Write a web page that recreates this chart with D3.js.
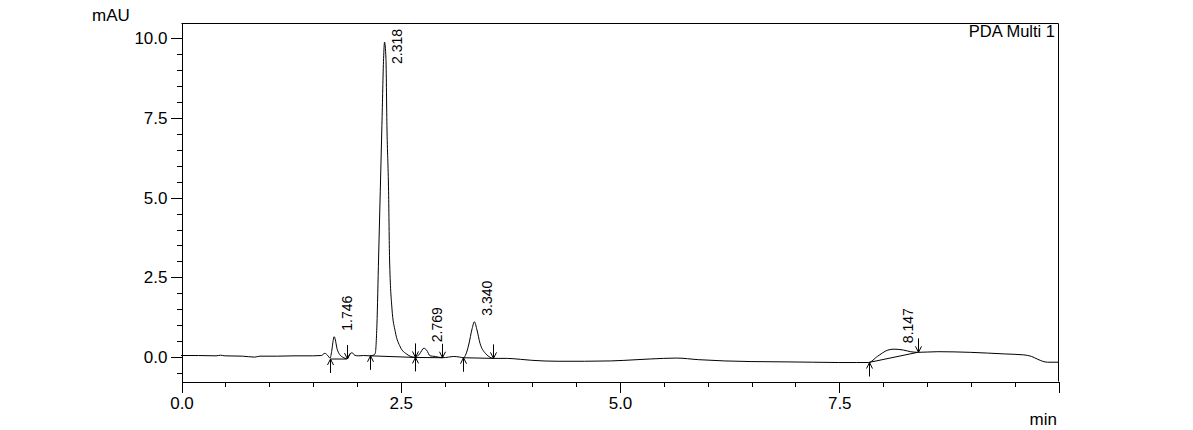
<!DOCTYPE html>
<html>
<head>
<meta charset="utf-8">
<script src="https://cdn.jsdelivr.net/npm/d3@7"></script>
<style>
body { margin: 0; background: #fff; }
svg text { font-family: "Liberation Sans", Arial, sans-serif; fill: #000; }
</style>
</head>
<body>
<svg></svg>
<script>
// chromatogram trace (min, mAU)
var times  = [0.00, 0.20, 0.40, 0.45, 0.50, 0.70, 0.84, 0.90, 1.10, 1.30, 1.50, 1.60, 1.64, 1.67, 1.70,
              1.72, 1.735, 1.747, 1.76, 1.777, 1.80, 1.815, 1.85, 1.89, 1.92, 1.95, 1.98, 2.02, 2.08, 2.16,
              2.20, 2.215, 2.234, 2.253, 2.272, 2.291, 2.310, 2.321, 2.337, 2.348, 2.367, 2.378, 2.405, 2.443, 2.50,
              2.576, 2.62, 2.67, 2.72, 2.77, 2.80, 2.84, 2.90, 2.98, 3.05, 3.11, 3.18, 3.22, 3.25, 3.28,
              3.32, 3.345, 3.375, 3.41, 3.47, 3.51, 3.56, 3.72, 3.87, 4.00, 4.30, 4.60, 4.90, 5.20, 5.50,
              5.65, 5.90, 6.20, 6.50, 6.90, 7.20, 7.50, 7.70, 7.84, 7.94, 8.06, 8.13, 8.24, 8.32, 8.40,
              8.63, 9.00, 9.39, 9.61, 9.70, 9.77, 9.88, 10.0];
var signal = [0.03, 0.03, 0.02, 0.04, 0.02, 0.01, -0.02, 0.01, 0.01, 0.02, 0.02, 0.03, 0.10, 0.04, -0.05,
              0.20, 0.50, 0.62, 0.52, 0.27, 0.10, 0.04, -0.03, -0.07, 0.05, 0.12, 0.04, 0.02, 0.03, 0.02,
              0.05, 0.10, 0.99, 3.09, 5.17, 7.26, 9.35, 9.87, 9.35, 7.26, 5.17, 3.09, 1.52, 0.78, 0.30,
              0.07, 0.00, -0.03, 0.08, 0.26, 0.20, 0.02, 0.00, -0.04, -0.02, 0.00, -0.02, -0.04, 0.08, 0.36,
              0.88, 1.09, 0.83, 0.41, 0.10, 0.00, -0.06, -0.06, -0.09, -0.12, -0.15, -0.15, -0.14, -0.10, -0.06,
              -0.05, -0.10, -0.14, -0.16, -0.17, -0.18, -0.19, -0.19, -0.19, 0.00, 0.20, 0.23, 0.20, 0.15, 0.13,
              0.15, 0.13, 0.08, 0.05, 0.00, -0.09, -0.18, -0.18];

// detected peaks
var peak_labels      = ["1.746", "2.318", "2.769", "3.340", "8.147"];
var peak_rt          = [1.746, 2.318, 2.769, 3.340, 8.147];
var peak_height      = [0.62, 9.87, 0.26, 1.09, 0.23];
var peak_start       = [1.70, 2.16, 2.67, 3.22, 7.84];
var peak_start_level = [-0.08, 0.02, -0.03, -0.04, -0.19];
var peak_end         = [1.89, 2.67, 2.98, 3.56, 8.40];
var peak_end_level   = [-0.08, -0.03, -0.04, -0.06, 0.13];

var x_ticks = [0, 2.5, 5, 7.5];
var y_ticks = [0, 2.5, 5, 7.5, 10];

var width = 1193, height = 430;
var p_left = 181, p_right = 1058, p_top = 23, p_bottom = 381;

var svg = d3.select("svg");
svg.attr("width", width).attr("height", height);

var xScale = d3.scaleLinear().domain([0, 10]).range([p_left, p_right]);
var yScale = d3.scaleLinear().domain([-0.77, 10.47]).range([p_bottom, p_top]);

// 枠 (上と右)
svg.append("path")
    .attr("d", "M" + (p_left + 0.5) + "," + (p_top + 0.5) + "H" + (p_right + 0.5) + "V" + (p_bottom + 0.5))
    .attr("fill", "none")
    .attr("stroke", "#000")
    .attr("stroke-width", 1);

// 軸
var gx = svg.append("g").attr("transform", "translate(0.5," + (p_bottom + 0.5) + ")");
gx.call(d3.axisBottom(xScale).tickValues(d3.range(0, 10.01, 0.5)).tickFormat("").tickSize(5).tickSizeOuter(0));
gx.append("g").call(d3.axisBottom(xScale).tickValues(x_ticks.concat([10])).tickSize(11).tickPadding(4)
    .tickFormat(function(d) { return d == 10 ? "" : d3.format(".1f")(d); }))
    .select(".domain").remove();

var gy = svg.append("g").attr("transform", "translate(" + (p_left + 0.5) + ",0.5)");
gy.call(d3.axisLeft(yScale).tickValues(d3.range(-0.5, 10.01, 0.5)).tickFormat("").tickSize(5).tickSizeOuter(0));
gy.append("g").call(d3.axisLeft(yScale).tickValues(y_ticks).tickSize(11).tickPadding(3)
    .tickFormat(d3.format(".1f")))
    .select(".domain").remove();

svg.selectAll(".tick text")
    .attr("font-size", 17)
    .attr("font-family", "Liberation Sans, Arial, sans-serif");
svg.selectAll(".domain, .tick line").attr("stroke", "#000").attr("shape-rendering", "crispEdges");

svg.append("text").attr("x", 92).attr("y", 21).attr("font-size", 17).text("mAU");
svg.append("text").attr("x", 1057).attr("y", 425).attr("font-size", 17)
    .attr("text-anchor", "end").text("min");
svg.append("text").attr("x", 1055).attr("y", 37).attr("font-size", 16.5)
    .attr("text-anchor", "end").text("PDA Multi 1");

// トレース
var trace = times.map(function(t, i) { return [t, signal[i]]; });
var line = d3.line()
    .x(d => xScale(d[0]))
    .y(d => yScale(d[1]))
    .curve(d3.curveMonotoneX);

svg.append("path")
    .datum(trace)
    .attr("d", line)
    .attr("fill", "none")
    .attr("stroke", "#000")
    .attr("stroke-width", 1);

// 積分ベースライン
svg.append("g")
    .selectAll("line")
    .data(peak_rt)
    .enter()
    .append("line")
    .attr("x1", (d, i) => xScale(peak_start[i]))
    .attr("y1", (d, i) => yScale(peak_start_level[i]))
    .attr("x2", (d, i) => xScale(peak_end[i]))
    .attr("y2", (d, i) => yScale(peak_end_level[i]))
    .attr("stroke", "#000")
    .attr("stroke-width", 1);

// 開始(上向き)と終了(下向き)の矢印
function arrow(x, y, dir) {
    x = Math.round(x) + 0.5;
    return "M" + x + "," + (y + 14 * dir) + "L" + x + "," + y +
        "M" + (x - 3) + "," + (y + 6 * dir) + "L" + x + "," + y + "L" + (x + 3) + "," + (y + 6 * dir);
}
var ga = svg.append("g").attr("fill", "none").attr("stroke", "#000").attr("stroke-width", 1);
ga.selectAll(".start")
    .data(peak_start)
    .enter()
    .append("path")
    .attr("class", "start")
    .attr("d", (d, i) => arrow(xScale(d), yScale(peak_start_level[i]), 1));
ga.selectAll(".end")
    .data(peak_end)
    .enter()
    .append("path")
    .attr("class", "end")
    .attr("d", (d, i) => arrow(xScale(d), yScale(peak_end_level[i]), -1));

// ピーク名
svg.append("g")
    .selectAll("text")
    .data(peak_labels)
    .enter()
    .append("text")
    .attr("font-size", 14)
    .attr("transform", function(d, i) {
        var px = xScale(peak_rt[i]) + 18;
        var py = Math.max(yScale(peak_height[i]) - 6, p_top + 41);
        return "translate(" + px + "," + py + ") rotate(-90)";
    })
    .text(d => d);
</script>
</body>
</html>
